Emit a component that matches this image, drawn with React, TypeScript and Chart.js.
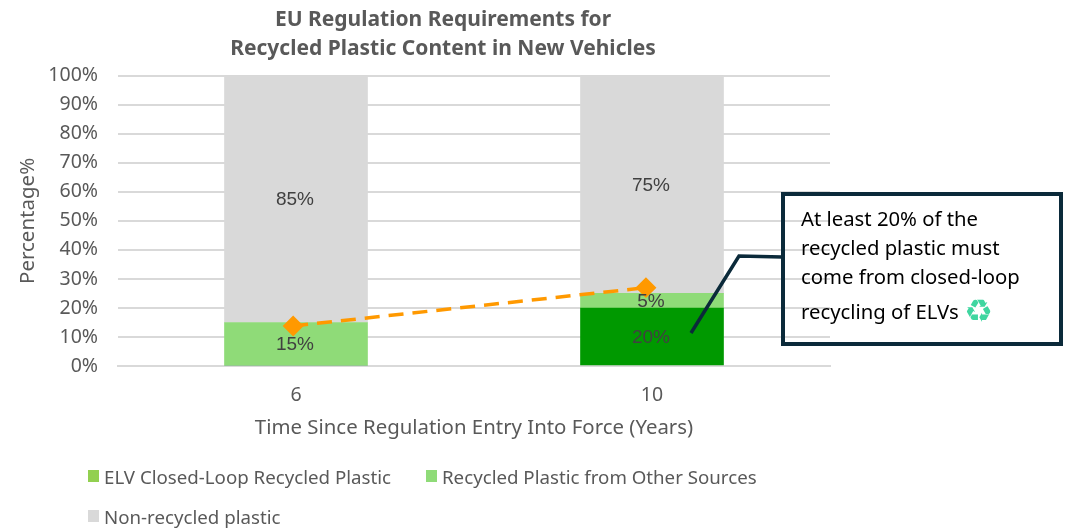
import { useEffect, useRef } from 'react';
import { Chart, registerables } from 'chart.js';

Chart.register(...registerables);

const years = ['6', '10'];
const yearSlots = [0, 1];
const elvClosedLoop = [0, 20];
const otherSources = [15, 5];
const nonRecycled = [85, 75];
// the orange target line sits slightly left of the bar centres in the original
const targetX = [-0.008, 0.983];
const targetY = [13.8, 27];

const yTicks = [0, 10, 20, 30, 40, 50, 60, 70, 80, 90, 100];
const legendRows = [
  { label: 'ELV Closed-Loop Recycled Plastic', color: '#92d050', x: 88, y: 465 },
  { label: 'Recycled Plastic from Other Sources', color: '#8fdb78', x: 426, y: 465 },
  { label: 'Non-recycled plastic', color: '#d9d9d9', x: 88, y: 505 },
];
const calloutLines = ['At least 20% of the', 'recycled plastic must', 'come from closed-loop'];

const FONT = '"Noto Sans", sans-serif';
const TEXT = '#595959';

const toPoints = (values: number[]) => values.map((y, i) => ({ x: yearSlots[i], y }));

// Подписи внутри столбцов
const barLabels = {
  id: 'barLabels',
  afterDatasetsDraw(chart: Chart) {
    const { ctx } = chart;
    ctx.save();
    ctx.font = '19px "Liberation Sans"';
    ctx.fillStyle = '#404040';
    ctx.textAlign = 'center';
    ctx.textBaseline = 'middle';
    [0, 1, 2].forEach((ds) => {
      const meta = chart.getDatasetMeta(ds);
      meta.data.forEach((bar: any, i: number) => {
        const value = (chart.data.datasets[ds].data[i] as any).y as number;
        if (!value) return;
        ctx.fillText(`${value}%`, bar.x - 1, (bar.y + bar.base) / 2 + 1);
      });
    });
    ctx.restore();
  },
};

// Линия-выноска к подписи
const leaderLine = {
  id: 'leaderLine',
  afterDraw(chart: Chart) {
    const { ctx } = chart;
    ctx.save();
    ctx.strokeStyle = '#0b2a3a';
    ctx.lineWidth = 3.5;
    ctx.beginPath();
    ctx.moveTo(691, 333);
    ctx.lineTo(739, 256);
    ctx.lineTo(782, 257);
    ctx.stroke();
    ctx.restore();
  },
};

export default function App() {
  const canvasRef = useRef<HTMLCanvasElement>(null);

  useEffect(() => {
    if (!canvasRef.current) return;
    const barStyle = { barThickness: 143, order: 2 };
    const chart = new Chart(canvasRef.current, {
      type: 'bar',
      data: {
        datasets: [
          { label: 'ELV Closed-Loop Recycled Plastic', data: toPoints(elvClosedLoop), backgroundColor: '#009900', ...barStyle },
          { label: 'Recycled Plastic from Other Sources', data: toPoints(otherSources), backgroundColor: '#8fdb78', ...barStyle },
          { label: 'Non-recycled plastic', data: toPoints(nonRecycled), backgroundColor: '#d9d9d9', ...barStyle },
          {
            type: 'line',
            label: 'Target',
            stack: 'target',
            data: targetX.map((x, i) => ({ x, y: targetY[i] })),
            borderColor: '#ff9900',
            backgroundColor: '#ff9900',
            borderWidth: 3.5,
            borderDash: [15, 9],
            pointStyle: 'rectRot',
            pointRadius: 8,
            order: 1,
          } as any,
        ],
      },
      options: {
        responsive: false,
        animation: false,
        layout: { padding: { left: 0, right: 0, top: 0, bottom: 88 } },
        plugins: {
          legend: { display: false },
          tooltip: { enabled: false },
          title: {
            display: true,
            text: ['EU Regulation Requirements for', 'Recycled Plastic Content in New Vehicles'],
            color: TEXT,
            font: { family: FONT, size: 21, weight: 'bold', lineHeight: 1.4 },
            padding: { top: 5, bottom: 12 },
          },
        },
        scales: {
          x: {
            type: 'linear',
            stacked: true,
            offset: false,
            min: -0.5,
            max: 1.5,
            afterBuildTicks: (scale: any) => { scale.ticks = yearSlots.map((value) => ({ value })); },
            grid: { display: false },
            border: { color: '#d9d9d9', width: 2 },
            ticks: { color: TEXT, font: { family: FONT, size: 19.5 }, padding: 10, callback: (v: any) => years[v] },
            title: { display: true, text: 'Time Since Regulation Entry Into Force (Years)', color: TEXT, font: { family: FONT, size: 20.4 } },
            afterFit: (scale: any) => { scale.height = 78; },
          },
          y: {
            stacked: true,
            min: 0,
            max: 100,
            afterBuildTicks: (scale: any) => { scale.ticks = yTicks.map((value) => ({ value })); },
            grid: { color: '#d9d9d9', lineWidth: 2, drawTicks: false },
            border: { display: false },
            ticks: { color: TEXT, font: { family: FONT, size: 19.5 }, padding: 20, callback: (v: any) => `${v}%` },
            title: { display: true, text: 'Percentage%', color: TEXT, font: { family: FONT, size: 20.5 }, padding: { top: 16, bottom: 0 } },
            afterFit: (scale: any) => { scale.width = 118; },
          },
          // пустая ось справа: держит правый край сетки на месте, заголовок остается по центру холста
          spacer: {
            position: 'right',
            grid: { display: false },
            border: { display: false },
            ticks: { display: false },
            afterFit: (scale: any) => { scale.width = 56; },
          },
        },
      },
      plugins: [barLabels, leaderLine],
    });
    return () => chart.destroy();
  }, []);

  return (
    <div style={{ position: 'absolute', left: 0, top: 0, width: 1070, height: 532, overflow: 'hidden', background: '#fff', fontFamily: FONT }}>
      <canvas ref={canvasRef} width={886} height={532} style={{ position: 'absolute', left: 0, top: 0 }} />
      {legendRows.map((row) => (
        <div key={row.label} style={{ position: 'absolute', left: row.x, top: row.y, display: 'flex', alignItems: 'center', height: 22, color: TEXT, fontSize: 18.7, whiteSpace: 'nowrap' }}>
          <span style={{ width: 11, height: 12, background: row.color, marginRight: 5 }} />
          {row.label}
        </div>
      ))}
      <div style={{ position: 'absolute', left: 781, top: 192, width: 282, height: 154, boxSizing: 'border-box', border: '4px solid #0b2a3a', padding: '8px 0 0 16px', color: '#000', fontSize: 20.3, lineHeight: '29px', whiteSpace: 'nowrap' }}>
        {calloutLines.map((line) => <div key={line}>{line}</div>)}
        <div style={{ marginTop: 6 }}>recycling of ELVs <span style={{ fontFamily: '"DejaVu Sans"', color: '#3fd6a0', fontSize: 32, lineHeight: '20px', verticalAlign: -3 }}>♻</span></div>
      </div>
    </div>
  );
}
